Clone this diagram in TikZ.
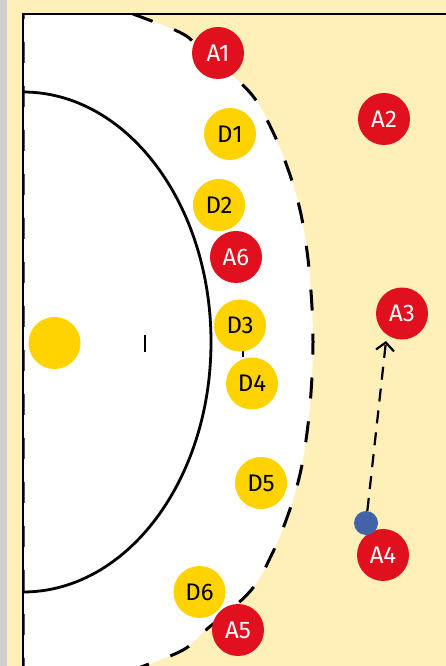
\documentclass[tikz,border=0pt]{standalone}
\usepackage{fontspec}
\setmainfont{Fira Sans}
\usepackage{xcolor}
\definecolor{hbfield}{RGB}{254,240,184}
\definecolor{hbred}{RGB}{224,16,30}
\definecolor{hbyellow}{RGB}{255,211,0}
\definecolor{hbblue}{RGB}{66,99,168}
\definecolor{hbgray}{RGB}{208,208,208}
\usepackage{tikz}
\usetikzlibrary{arrows.meta}

\begin{document}
\begin{tikzpicture}[x=1pt, y=1pt,
  attacker/.style={circle, fill=hbred, text=white, minimum size=52pt, inner sep=0pt, font=\fontsize{24}{24}\selectfont},
  defender/.style={circle, fill=hbyellow, text=black, minimum size=52pt, inner sep=0pt, font=\fontsize{24}{24}\selectfont},
  courtline/.style={line width=2.8pt}]
  \useasboundingbox (0,0) rectangle (446,666);

  % Background
  \fill[hbfield] (0,0) rectangle (446,666);
  \fill[hbgray] (0,0) rectangle (7,666);

  % --- Free throw area (9m) ---
  \begin{scope}
    \clip (23,0) rectangle (446,652);
    \filldraw[fill=white, courtline, line width=3pt, dash pattern=on 21pt off 23pt, dash phase=8pt]
      plot[smooth, tension=0.6] coordinates {(99,664) (141,649) (183,632) (203.5,614)
        (249.5,574) (272,536) (289,494) (300.5,454) (307.5,411) (311.5,367) (313,324)
        (311.5,281) (307.5,237) (300.5,194) (289,154) (272,112) (249.5,74) (203.5,34)
        (183,16) (141,-1) (99,-16)}
      -- (23,-16) -- (23,664) -- cycle;
  \end{scope}

  % --- Goal area (6m) and marks ---
  \draw[courtline] (23,574) arc[start angle=90, end angle=-90, x radius=188pt, y radius=250pt];
  \draw[line width=2.2pt] (145,314) -- (145,331);
  \draw[line width=2.2pt] (243,309) -- (243,339);

  % Field lines
  \draw[courtline] (23,0) -- (23,652) -- (446,652);

  % --- Defenders ---
  \node[defender] (gk) at (54.5,323) {};
  \node[defender] (d1) at (230,532) {D1};
  \node[defender] (d2) at (219,461) {D2};
  \node[defender] (d3) at (240,340.5) {D3};
  \node[defender] (d4) at (252,282.5) {D4};
  \node[defender] (d5) at (261,183) {D5};
  \node[defender] (d6) at (199.5,74) {D6};

  % --- Attackers ---
  \node[attacker] (a1) at (218,613) {A1};
  \node[attacker] (a2) at (384,547) {A2};
  \node[attacker] (a3) at (402,352.5) {A3};
  \node[attacker] (a4) at (383,111) {A4};
  \node[attacker] (a5) at (238,36) {A5};
  \node[attacker] (a6) at (236,409) {A6};

  % Ball and pass
  \node[circle, fill=hbblue, minimum size=24pt, inner sep=0pt] (ball) at (366,143) {};
  \coordinate (pass) at (386,325);
  \draw[line width=2.2pt, dash pattern=on 13pt off 9pt, -{Straight Barb[length=8pt, width=18pt]}] (ball) -- (pass);
\end{tikzpicture}
\end{document}
